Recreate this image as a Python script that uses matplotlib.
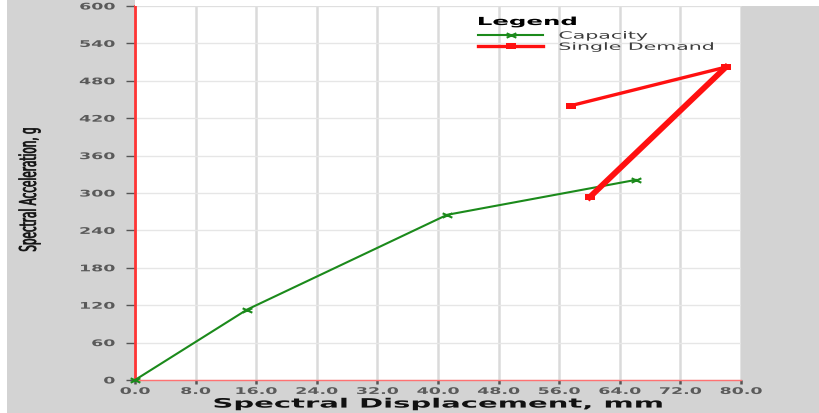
import matplotlib
matplotlib.use("Agg")
import matplotlib.pyplot as plt
from matplotlib.patches import Rectangle
from matplotlib.patheffects import AbstractPathEffect
from matplotlib.transforms import Affine2D
from matplotlib.path import Path

# Capacity curve (spectral displacement in mm, spectral acceleration in g)
capacity_sd = [0.0, 14.8, 41.2, 66.1]
capacity_sa = [0.0, 113.0, 265.0, 321.0]

# Single demand trace
demand_sd = [57.5, 78.0, 60.0]
demand_sa = [440.0, 502.0, 293.0]

x_ticks = [0, 8, 16, 24, 32, 40, 48, 56, 64, 72, 80]
y_ticks = [0, 60, 120, 180, 240, 300, 360, 420, 480, 540, 600]


class HStretch(AbstractPathEffect):
    """Widen text horizontally about its left, centre or right edge,
    optionally thickening the glyphs with an outline of the same colour."""

    def __init__(self, sx, anchor="center", bolden=0.0):
        super().__init__()
        self.sx = sx
        self.anchor = anchor
        self.bolden = bolden

    def draw_path(self, renderer, gc, tpath, affine, rgbFace=None):
        ext = tpath.get_extents(affine)
        if self.anchor == "left":
            cx = ext.x0
        elif self.anchor == "right":
            cx = ext.x1
        else:
            cx = 0.5 * (ext.x0 + ext.x1)
        t = affine + Affine2D().translate(-cx, 0).scale(self.sx, 1).translate(cx, 0)
        if self.bolden > 0 and rgbFace is not None:
            gc0 = renderer.new_gc()
            gc0.copy_properties(gc)
            gc0.set_linewidth(self.bolden)
            gc0.set_foreground(rgbFace)
            renderer.draw_path(gc0, tpath, t, rgbFace)
            gc0.restore()
        else:
            renderer.draw_path(gc, tpath, t, rgbFace)


# wide marker shapes
wide_x = Path([(-1, -0.45), (1, 0.45), (-1, 0.45), (1, -0.45)],
              [Path.MOVETO, Path.LINETO, Path.MOVETO, Path.LINETO])
wide_sq = Path([(-1, -0.5), (1, -0.5), (1, 0.5), (-1, 0.5), (-1, -0.5)],
               [Path.MOVETO, Path.LINETO, Path.LINETO, Path.LINETO, Path.CLOSEPOLY])

W, H = 819, 414
fig = plt.figure(figsize=(W / 100, H / 100), dpi=100, facecolor="#d3d3d3")

# white margins around the grey panel
fig.patches.append(Rectangle((0, 0), 7 / W, 1, transform=fig.transFigure,
                             facecolor="white", edgecolor="none", zorder=0))
fig.patches.append(Rectangle((135 / W, 1 - 7 / H), 1, 7 / H, transform=fig.transFigure,
                             facecolor="white", edgecolor="none", zorder=0))

ax = fig.add_axes([135 / W, 33 / H, 606 / W, 374 / H])
ax.set_facecolor("white")
ax.set_xlim(0, 80)
ax.set_ylim(0, 600)

ax.set_xticks(x_ticks)
ax.set_xticklabels([f"{v:.1f}" for v in x_ticks])
ax.set_yticks(y_ticks)
ax.set_yticklabels([str(v) for v in y_ticks])

ax.grid(axis="x", color="#dadada", lw=1.8, zorder=0)
ax.grid(axis="y", color="#e6e6e6", lw=1.0, zorder=0)
ax.set_axisbelow(True)

for side in ("top", "right"):
    ax.spines[side].set_visible(False)
ax.spines["left"].set_color("#ff3535")
ax.spines["left"].set_linewidth(2.0)
ax.spines["bottom"].set_color("#ff7272")
ax.spines["bottom"].set_linewidth(1.0)
ax.axhline(600, color="#dedede", lw=1.2, clip_on=False, zorder=1)

ax.tick_params(axis="x", colors="#555555", length=3, width=1.8, labelsize=6.6, pad=2)
ax.tick_params(axis="y", colors="#555555", length=6.5, width=1.0, labelsize=6.6, pad=8)
for lbl in ax.get_xticklabels():
    lbl.set_fontweight("bold")
    lbl.set_color("#5a5a5a")
    lbl.set_path_effects([HStretch(1.9, "center")])
for lbl in ax.get_yticklabels():
    lbl.set_fontweight("bold")
    lbl.set_color("#5a5a5a")
    lbl.set_path_effects([HStretch(1.9, "right")])

ax.plot(capacity_sd, capacity_sa, color="#1b8a1b", lw=1.5, marker=wide_x,
        ms=7, mew=1.5, mfc="none", mec="#1b8a1b", label="Capacity",
        zorder=3, clip_on=False)
ax.plot(demand_sd[:2], demand_sa[:2], color="#ff1010", lw=2.4, marker=wide_sq,
        ms=7.5, mew=0, label="Single Demand", zorder=4)
ax.plot(demand_sd[1:], demand_sa[1:], color="#ff1010", lw=4.2, marker=wide_sq,
        ms=7.5, mew=0, zorder=4)

xl = ax.set_xlabel("Spectral Displacement, mm", fontsize=9.3, fontweight="bold",
                   color="#111111")
ax.xaxis.set_label_coords(0.5, -0.047)
xl.set_path_effects([HStretch(2.25, "center")])

yl = ax.set_ylabel("Spectral Acceleration, g", fontsize=7.5, color="#111111")
ax.yaxis.set_label_coords(-0.166, 0.51)
yl.set_path_effects([HStretch(2.2, "center", bolden=0.5)])

leg = ax.legend(loc="upper left", bbox_to_anchor=(478 / W, 1 - 18 / H),
                bbox_transform=fig.transFigure, frameon=False,
                title="Legend", fontsize=7.2, handlelength=6.5, handletextpad=1.6,
                labelspacing=0.12, borderpad=0, borderaxespad=0)
leg.get_title().set_fontweight("bold")
leg.get_title().set_fontsize(8)
leg.get_title().set_path_effects([HStretch(2.2, "left")])
leg._legend_box.align = "left"
leg._legend_box.sep = 2.6
for t in leg.get_texts():
    t.set_color("#3c3c3c")
    t.set_path_effects([HStretch(2.05, "left")])

fig.savefig("out.png", dpi=100, facecolor=fig.get_facecolor())
